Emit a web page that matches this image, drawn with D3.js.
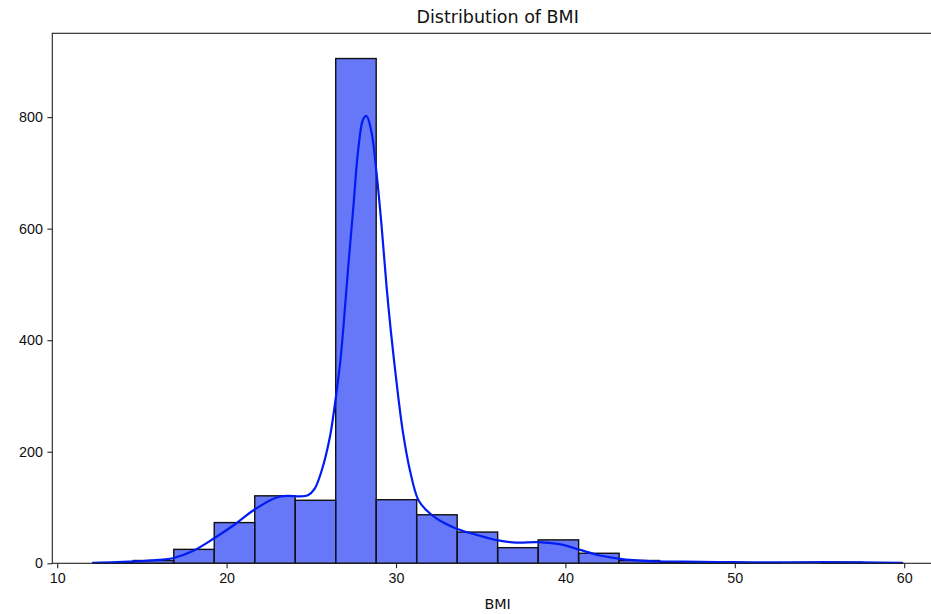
<!DOCTYPE html>
<html>
<head>
<meta charset="utf-8">
<script src="https://cdn.jsdelivr.net/npm/d3@7"></script>
<style>
  html, body { margin: 0; padding: 0; background: #fff; }
  svg { display: block; font-family: 'DejaVu Sans', sans-serif; }
</style>
</head>
<body>
<div id="chart"></div>
<script>
// histogram bins (BMI)
const binEdges = [12.1, 14.49, 16.88, 19.27, 21.66, 24.05, 26.44, 28.83, 31.22, 33.61, 36.0,
  38.39, 40.78, 43.17, 45.56, 47.95, 50.34, 52.73, 55.12, 57.51, 59.9]
const binCounts = [1, 5, 25, 73, 121, 113, 905, 114, 87, 56, 28, 42, 18, 5, 2, 1, 1, 0, 2, 1]

// kde curve (scaled to counts)
const kdeX = [12.1, 13.5, 15.0, 16.0, 16.83, 18.0, 19.27, 20.5, 21.63, 22.95, 23.6, 24.3, 24.8,
  25.2, 25.6, 26.1, 26.4, 26.7, 26.9, 27.18, 27.47, 27.77, 28.06, 28.26, 28.56, 28.85, 29.15, 29.44,
  29.7, 30.13, 30.42, 30.82, 31.31, 31.8, 32.4, 33.0, 33.58, 34.76, 36.03, 37.12, 38.39, 39.87, 40.86,
  42.04, 43.22, 44.99, 47.0, 50.0, 53.0, 55.5, 57.5, 59.9]
const kdeY = [1, 2, 4, 6, 9, 22, 45, 70, 96, 118, 121, 120, 122,
  134, 165, 227, 287, 359, 425, 532, 634, 742, 796, 802, 772, 700, 604, 497,
  415, 299, 233, 167, 114, 95, 80, 70, 62, 51, 41, 37, 38, 33, 24,
  14, 8, 4, 3, 2, 1.5, 2, 1.5, 1]

const xTicks = [10, 20, 30, 40, 50, 60]
const yTicks = [0, 200, 400, 600, 800]

const width = 931
const height = 614
const margin = { top: 33.3, left: 52.3, bottom: 50.7 }
const plotRight = 943

const lineColor = 'rgb(0,28,242)'

const svg = d3.select('#chart')
  .append('svg')
  .attr('width', width)
  .attr('height', height)

const bins = binCounts.map((c, i) => ({ x0: binEdges[i], x1: binEdges[i + 1], count: c }))

// matplotlib-style 5% margins around the data
const span = binEdges[binEdges.length - 1] - binEdges[0]
const x = d3.scaleLinear()
  .domain([binEdges[0] - span * 0.05, binEdges[binEdges.length - 1] + span * 0.05])
  .range([margin.left, plotRight])

const y = d3.scaleLinear()
  .domain([0, d3.max(binCounts) * 1.05])
  .range([height - margin.bottom, margin.top])

// bars
svg.append('g')
  .attr('class', 'bars')
  .selectAll('rect')
  .data(bins)
  .join('rect')
  .attr('x', d => x(d.x0))
  .attr('width', d => x(d.x1) - x(d.x0))
  .attr('y', d => y(d.count))
  .attr('height', d => y(0) - y(d.count))
  .attr('fill', lineColor)
  .attr('fill-opacity', 0.6)
  .attr('stroke', '#111')
  .attr('stroke-width', 1.4)

// kde line
const line = d3.line()
  .x(d => x(d[0]))
  .y(d => y(d[1]))
  .curve(d3.curveCatmullRom.alpha(0.5))

svg.append('path')
  .datum(kdeX.map((v, i) => [v, kdeY[i]]))
  .attr('fill', 'none')
  .attr('stroke', lineColor)
  .attr('stroke-width', 2.2)
  .attr('stroke-linejoin', 'round')
  .attr('d', line)

// axes
const xAxis = g => g
  .attr('transform', `translate(0,${y(0)})`)
  .call(d3.axisBottom(x).tickValues(xTicks).tickSize(4.9).tickPadding(4.5).tickSizeOuter(0))
  .call(g => g.select('.domain').remove())
  .call(g => g.selectAll('line').attr('stroke', '#222').attr('stroke-width', 1.1))
  .call(g => g.selectAll('text').attr('fill', '#111').style('font-size', '14.3px'))

const yAxis = g => g
  .attr('transform', `translate(${margin.left},0)`)
  .call(d3.axisLeft(y).tickValues(yTicks).tickSize(4.9).tickPadding(4.5).tickSizeOuter(0))
  .call(g => g.select('.domain').remove())
  .call(g => g.selectAll('line').attr('stroke', '#222').attr('stroke-width', 1.1))
  .call(g => g.selectAll('text').attr('fill', '#111').style('font-size', '14.3px'))

svg.append('g').attr('class', 'x').call(xAxis)
svg.append('g').attr('class', 'y').call(yAxis)

// frame
svg.append('rect')
  .attr('x', margin.left)
  .attr('y', margin.top)
  .attr('width', plotRight - margin.left)
  .attr('height', y(0) - margin.top)
  .attr('fill', 'none')
  .attr('stroke', '#222')
  .attr('stroke-width', 1.1)

// labels
svg.append('text')
  .attr('x', (margin.left + plotRight) / 2)
  .attr('y', 23)
  .attr('text-anchor', 'middle')
  .attr('fill', '#111')
  .style('font-size', '17.5px')
  .text('Distribution of BMI')

svg.append('text')
  .attr('x', (margin.left + plotRight) / 2)
  .attr('y', 609)
  .attr('text-anchor', 'middle')
  .attr('fill', '#111')
  .style('font-size', '14.3px')
  .text('BMI')
</script>
</body>
</html>
